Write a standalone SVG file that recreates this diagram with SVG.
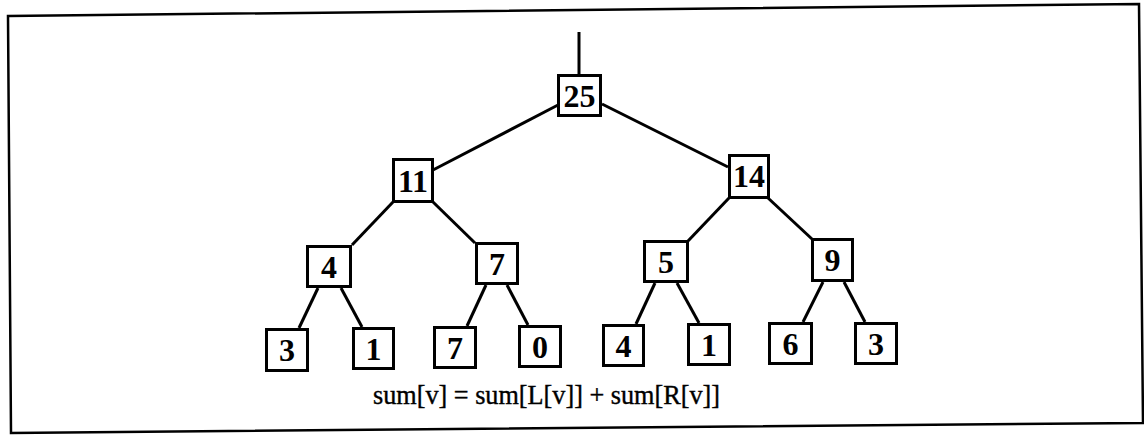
<svg xmlns="http://www.w3.org/2000/svg" width="1144" height="435" viewBox="0 0 1144 435">
<style>
.box{fill:#fff;stroke:#000;stroke-width:3}
.lbl{font-family:"Liberation Serif","Times New Roman",serif;font-size:32px;font-weight:bold;fill:#000;text-anchor:middle}
.edge{stroke:#000;stroke-width:3;fill:none}
.cap{font-family:"Liberation Serif","Times New Roman",serif;font-size:28px;fill:#000;stroke:#000;stroke-width:0.4}
</style>
<rect width="1144" height="435" fill="#fff"/>
<polygon points="8,16 1139,4 1143,423 11,433" fill="none" stroke="#000" stroke-width="2.5"/>
<g id="connectors">
<line class="edge" x1="579" y1="32" x2="579" y2="74"/>
<line class="edge" x1="558" y1="105" x2="433" y2="170"/>
<line class="edge" x1="602" y1="104" x2="728" y2="167"/>
<line class="edge" x1="393" y1="202" x2="352" y2="245"/>
<line class="edge" x1="433" y1="202" x2="475" y2="243"/>
<line class="edge" x1="729" y1="198" x2="688" y2="241"/>
<line class="edge" x1="768" y1="198" x2="812" y2="239"/>
<line class="edge" x1="318" y1="288" x2="299" y2="328"/>
<line class="edge" x1="341" y1="288" x2="362" y2="327"/>
<line class="edge" x1="486" y1="285" x2="467" y2="326"/>
<line class="edge" x1="507" y1="285" x2="528" y2="325"/>
<line class="edge" x1="655" y1="283" x2="636" y2="324"/>
<line class="edge" x1="677" y1="283" x2="699" y2="323"/>
<line class="edge" x1="823" y1="282" x2="803" y2="322"/>
<line class="edge" x1="844" y1="282" x2="865" y2="322"/>
</g>
<g id="n25"><rect class="box" x="558.5" y="75.5" width="42" height="40"/><text class="lbl" x="579.5" y="107">25</text></g>
<g id="n11"><rect class="box" x="393.5" y="159.5" width="39" height="42"/><text class="lbl" x="413" y="192">11</text></g>
<g id="n14"><rect class="box" x="729.5" y="155.5" width="39" height="42"/><text class="lbl" x="749" y="187">14</text></g>
<g id="n4"><rect class="box" x="307.5" y="246.5" width="43" height="40"/><text class="lbl" x="329" y="278">4</text></g>
<g id="n7"><rect class="box" x="476.5" y="243.5" width="41" height="40"/><text class="lbl" x="497" y="275">7</text></g>
<g id="n5"><rect class="box" x="644.5" y="241.5" width="43" height="40"/><text class="lbl" x="666" y="273">5</text></g>
<g id="n9"><rect class="box" x="812.5" y="239.5" width="40" height="41"/><text class="lbl" x="832.5" y="271">9</text></g>
<g id="l3a"><rect class="box" x="266.5" y="329.5" width="41" height="41"/><text class="lbl" x="287" y="361">3</text></g>
<g id="l1a"><rect class="box" x="353.5" y="328.5" width="40" height="40"/><text class="lbl" x="373.5" y="360">1</text></g>
<g id="l7"><rect class="box" x="434.5" y="327.5" width="41" height="40"/><text class="lbl" x="455" y="359">7</text></g>
<g id="l0"><rect class="box" x="519.5" y="326.5" width="41" height="40"/><text class="lbl" x="540" y="358">0</text></g>
<g id="l4"><rect class="box" x="603.5" y="325.5" width="40" height="40"/><text class="lbl" x="623.5" y="357">4</text></g>
<g id="l1b"><rect class="box" x="688.5" y="324.5" width="41" height="40"/><text class="lbl" x="709" y="356">1</text></g>
<g id="l6"><rect class="box" x="769.5" y="323.5" width="42" height="40"/><text class="lbl" x="790.5" y="355">6</text></g>
<g id="l3b"><rect class="box" x="855.5" y="323.5" width="41" height="40"/><text class="lbl" x="876" y="355">3</text></g>
<text class="cap" x="373" y="404" textLength="347" lengthAdjust="spacingAndGlyphs">sum[v] = sum[L[v]] + sum[R[v]]</text>
</svg>
